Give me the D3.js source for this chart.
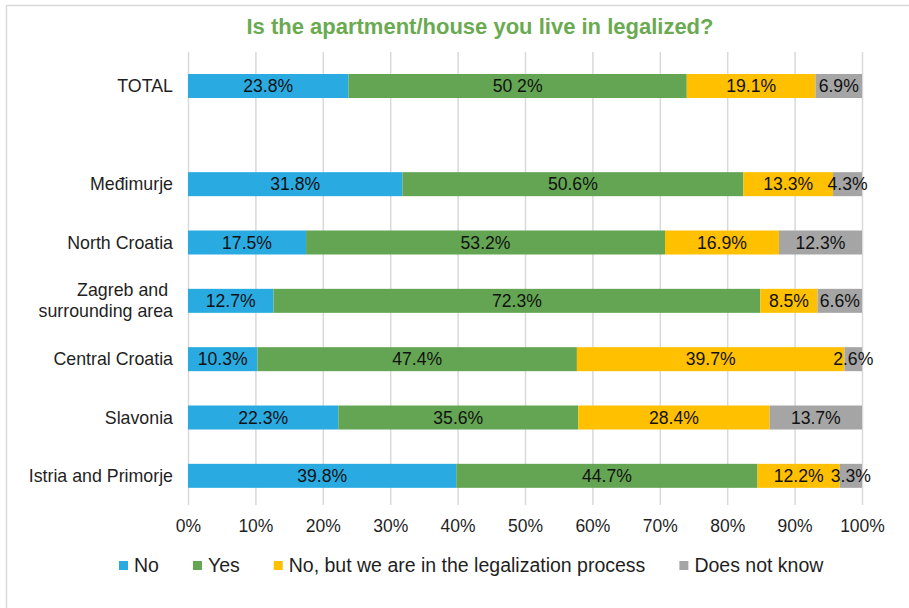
<!DOCTYPE html>
<html>
<head>
<meta charset="utf-8">
<script src="https://cdn.jsdelivr.net/npm/d3@7"></script>
<style>
  html, body { margin: 0; padding: 0; background: #fff; }
  svg { display: block; font-family: "Liberation Sans", Arial, sans-serif; }
</style>
</head>
<body>
<svg id="chart" width="909" height="608"></svg>
<script>
// ---- data ----
const title = "Is the apartment/house you live in legalized?";
const seriesNames = ["No", "Yes", "No, but we are in the legalization process", "Does not know"];
const seriesColors = ["#29ABE2", "#63A552", "#FFC000", "#A5A5A5"];
const totalCategory = "TOTAL";
const regionCategories = ["Međimurje", "North Croatia", "Zagreb and surrounding area", "Central Croatia", "Slavonia", "Istria and Primorje"];
const noValues      = [23.8, 31.8, 17.5, 12.7, 10.3, 22.3, 39.8];
const yesValues     = [50.2, 50.6, 53.2, 72.3, 47.4, 35.6, 44.7];
const processValues = [19.1, 13.3, 16.9,  8.5, 39.7, 28.4, 12.2];
const dkValues      = [ 6.9,  4.3, 12.3,  6.6,  2.6, 13.7,  3.3];
// label text as printed in the source (TOTAL "Yes" label appears as "50 2%")
const labelOverrides = [["TOTAL", "Yes", "50 2%"]];
const xTickValues = [0, 0.1, 0.2, 0.3, 0.4, 0.5, 0.6, 0.7, 0.8, 0.9, 1];
const categoryLines = { "Zagreb and surrounding area": ["Zagreb and\u00a0", "surrounding area"] };

// ---- build table ----
const allCategories = [totalCategory, ...regionCategories];
const keys = ["No", "Yes", "Process", "DK"];
const table = allCategories.map((c, i) => ({
  cat: c, No: noValues[i], Yes: yesValues[i], Process: processValues[i], DK: dkValues[i]
}));
const stacked = d3.stack().keys(keys).offset(d3.stackOffsetExpand)(table);

const svg = d3.select("#chart");

// chart frame
svg.append("rect").attr("x", 6.5).attr("y", 5.5).attr("width", 960).attr("height", 640)
  .attr("fill", "#fff").attr("stroke", "#d9d9d9").attr("stroke-width", 1.5);

// scales
const x = d3.scaleLinear().domain([0, 1]).range([188, 862]);
const yTotal = d3.scaleBand().domain([totalCategory]).range([52, 120]).paddingInner(1 - 24 / 68).paddingOuter((1 - 24 / 68) / 2);
const yReg = d3.scaleBand().domain(regionCategories).range([155, 505]).paddingInner(1 - 24 / (350 / 6)).paddingOuter((1 - 24 / (350 / 6)) / 2);
const yPos = c => c === totalCategory ? yTotal(c) : yReg(c);
const bw = yReg.bandwidth();

// title
svg.append("text").attr("x", 480).attr("y", 34).attr("text-anchor", "middle")
  .attr("font-size", 22).attr("font-weight", "bold").attr("fill", "#6AAA50").text(title);

// gridlines + tick labels via axis
const xAxis = d3.axisBottom(x).tickValues(xTickValues).tickFormat(d3.format(".0%")).tickSize(-(505 - 52)).tickPadding(0);
const gx = svg.append("g").attr("transform", "translate(0,505)").call(xAxis);
gx.select(".domain").remove();
gx.selectAll(".tick line").attr("stroke", "#d9d9d9").attr("stroke-width", 1.5);
gx.selectAll(".tick text").attr("font-size", 17.5).attr("fill", "#1f1f1f")
  .attr("font-family", "'Liberation Sans', Arial, sans-serif").attr("dy", null).attr("y", 27);

// bars
const overrideMap = new Map(labelOverrides.map(o => [o[0] + "|" + o[1], o[2]]));
stacked.forEach((layer, li) => {
  const g = svg.append("g");
  g.selectAll("rect").data(layer).join("rect")
    .attr("x", d => x(d[0]))
    .attr("y", d => yPos(d.data.cat))
    .attr("width", d => x(d[1]) - x(d[0]))
    .attr("height", bw)
    .attr("fill", seriesColors[li]);
});
stacked.forEach((layer, li) => {
  const g = svg.append("g");
  g.selectAll("text").data(layer).join("text")
    .attr("x", d => (x(d[0]) + x(d[1])) / 2)
    .attr("y", d => yPos(d.data.cat) + bw / 2 + 6)
    .attr("text-anchor", "middle").attr("font-size", 17.6).attr("fill", "#111")
    .text(d => {
      const k = d.data.cat + "|" + layer.key;
      return overrideMap.has(k) ? overrideMap.get(k) : d.data[layer.key].toFixed(1) + "%";
    });
});

// category labels
const catG = svg.append("g");
allCategories.forEach(c => {
  const lines = categoryLines[c] || [c];
  const cy = yPos(c) + bw / 2;
  const t = catG.append("text").attr("text-anchor", "end").attr("font-size", 17.8).attr("fill", "#1f1f1f");
  lines.forEach((ln, i) => {
    t.append("tspan").attr("x", 173).attr("y", cy + 6 + (i - (lines.length - 1) / 2) * 21).text(ln);
  });
});

// legend
const legend = svg.append("g");
let lx = 119;
seriesNames.forEach((n, i) => {
  legend.append("rect").attr("x", lx).attr("y", 561).attr("width", 9).attr("height", 9).attr("fill", seriesColors[i]);
  const t = legend.append("text").attr("x", lx + 15).attr("y", 572).attr("font-size", 19.5).attr("fill", "#1f1f1f").text(n);
  lx += 15 + t.node().getComputedTextLength() + 34;
});
</script>
</body>
</html>
